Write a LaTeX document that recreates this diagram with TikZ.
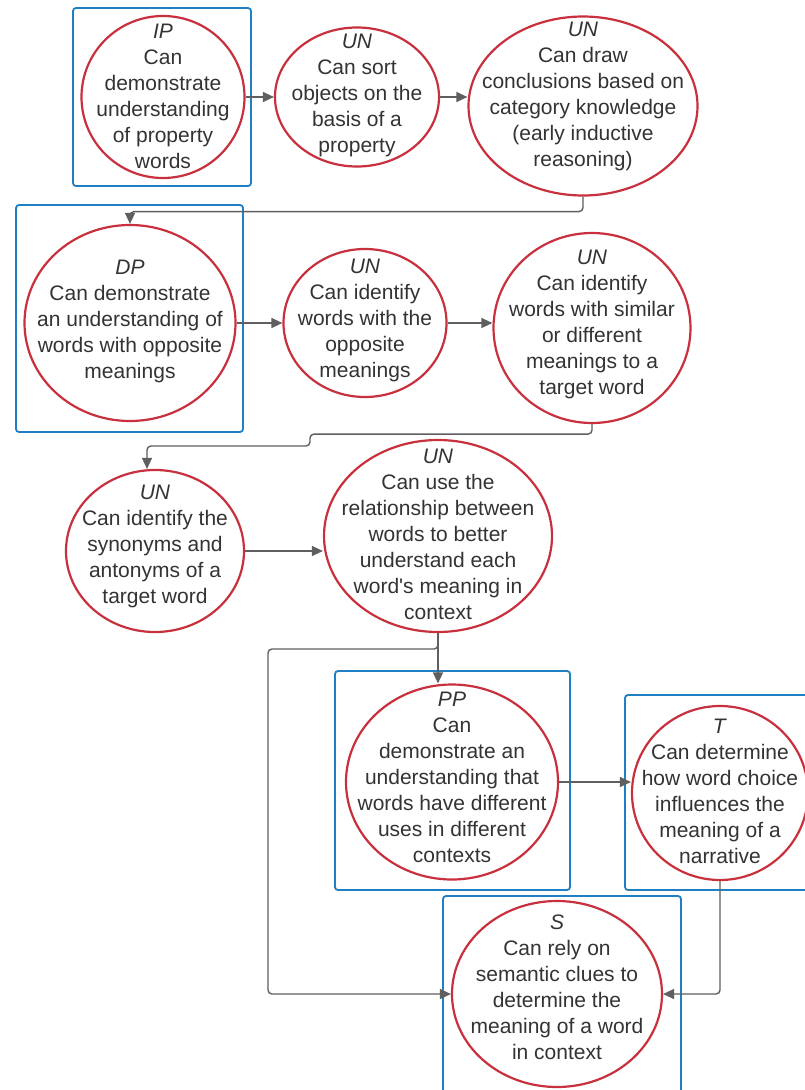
\documentclass[tikz,border=0pt]{standalone}
\usepackage{fontspec}
\setmainfont{Liberation Sans}
\usepackage{tikz}
\usetikzlibrary{shapes.geometric}
\usetikzlibrary{arrows.meta}
\usetikzlibrary{positioning}
\usepackage{xcolor}
\definecolor{ovalred}{HTML}{C9303E}
\definecolor{boxblue}{HTML}{1F7FC4}
\definecolor{linegray}{HTML}{5F5F5F}
\definecolor{textgray}{HTML}{333333}

\begin{document}
\begin{tikzpicture}[x=1pt, y=-1pt,
  oval/.style={draw=ovalred, line width=2.2pt, ellipse, inner sep=0pt},
  txt/.style={align=center, text=textgray, font=\fontsize{21}{26}\selectfont, inner sep=0pt},
  box/.style={draw=boxblue, line width=1.8pt, rounded corners=3pt},
  link/.style={draw=linegray, line width=1.4pt, rounded corners=4pt, -{Triangle[length=11pt,width=10pt]}}]
\useasboundingbox[fill=white] (0,0) rectangle (805,1090);
\draw[box] (73,8) rectangle (251,186);
\draw[box] (16,205) rectangle (243,432);
\draw[box] (335,671) rectangle (570,890);
\draw[box] (625,695) rectangle (815,890);
\draw[box] (443,896) rectangle (681,1100);
\node[oval, minimum width=163, minimum height=162] (ip) at (163,97) {};
\node[oval, minimum width=164, minimum height=139] (sort) at (357,97) {};
\node[oval, minimum width=229, minimum height=179] (infer) at (583,106) {};
\node[oval, minimum width=211, minimum height=196] (dp) at (130,323) {};
\node[oval, minimum width=163, minimum height=148] (opp) at (365,323) {};
\node[oval, minimum width=197, minimum height=190] (simdiff) at (592,328) {};
\node[oval, minimum width=178, minimum height=162] (syn) at (155,551) {};
\node[oval, minimum width=228, minimum height=192] (rel) at (438,536) {};
\node[oval, minimum width=212, minimum height=195] (pp) at (452,782) {};
\node[oval, minimum width=176, minimum height=174] (t) at (720,793) {};
\node[oval, minimum width=210, minimum height=186] (s) at (557,994) {};
\node[txt] (ipt) at (163,96) {\textit{IP}\\Can\\demonstrate\\understanding\\of property\\words};
\node[txt] (sortt) at (357,95) {\textit{UN}\\Can sort\\objects on the\\basis of a\\property};
\node[txt] (infert) at (583,96) {\textit{UN}\\Can draw\\conclusions based on\\category knowledge\\(early inductive\\reasoning)};
\node[txt] (dpt) at (130,321) {\textit{DP}\\Can demonstrate\\an understanding of\\words with opposite\\meanings};
\node[txt] (oppt) at (365,320) {\textit{UN}\\Can identify\\words with the\\opposite\\meanings};
\node[txt] (simdifft) at (592,324) {\textit{UN}\\Can identify\\words with similar\\or different\\meanings to a\\target word};
\node[txt] (synt) at (155,546) {\textit{UN}\\Can identify the\\synonyms and\\antonyms of a\\target word};
\node[txt] (relt) at (438,534) {\textit{UN}\\Can use the\\relationship between\\words to better\\understand each\\word\textquotesingle s meaning in\\context};
\node[txt] (ppt) at (452,777) {\textit{PP}\\Can\\demonstrate an\\understanding that\\words have different\\uses in different\\contexts};
\node[txt] (tt) at (720,791) {\textit{T}\\Can determine\\how word choice\\influences the\\meaning of a\\narrative};
\node[txt] (st) at (557,987) {\textit{S}\\Can rely on\\semantic clues to\\determine the\\meaning of a word\\in context};
\draw[link] (ip.east) -- (sort.west);
\draw[link] (sort.east) -- (sort.east -| infer.west);
\draw[link] (infer.south) -- ++(0,15) -| (dp.north);
\draw[link] (dp.east) -- (opp.west);
\draw[link] (opp.east) -- (opp.east -| simdiff.west);
\draw[link] (simdiff.south) -- ++(0,10) -| (310,446) -| ([xshift=-8pt]syn.north);
\draw[link] (syn.east) -- (syn.east -| rel.west);
\draw[link] (rel.south) -- (rel.south |- pp.north);
\draw[link] (rel.south) |- (268,649) |- (s.west);
\draw[link] (pp.east) -- (pp.east -| t.west);
\draw[link] (t.south) |- (s.east);
\end{tikzpicture}
\end{document}
